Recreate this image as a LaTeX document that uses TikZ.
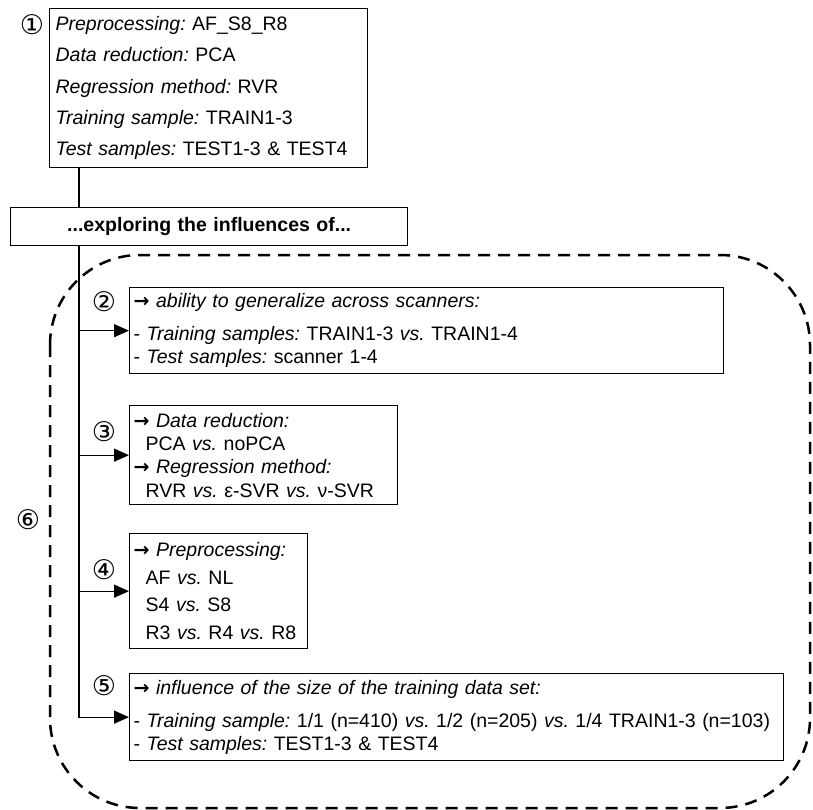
\documentclass[tikz,border=0pt]{standalone}
\usepackage{fontspec}
\setmainfont{Liberation Sans}
\newfontfamily\symfont{DejaVu Sans}
\usetikzlibrary{arrows.meta,positioning}
\frenchspacing

\newcommand{\Arr}{{\symfont\bfseries\fontsize{19}{19}\selectfont →}}
\newcommand{\Ind}{\hspace*{12pt}}
\newcommand{\It}[1]{{\itshape #1}}

\begin{document}
\begin{tikzpicture}[x=1pt,y=-1pt]
		\tikzstyle{Box}		= [draw, line width=1.3pt, inner xsep=4pt, inner ysep=0pt, anchor=north west, align=left, font=\fontsize{19.5}{23}\selectfont]
		\tikzstyle{Num}		= [inner sep=0pt, font=\symfont\fontsize{27}{27}\selectfont]
		\tikzstyle{Link}	= [line width=1.3pt]
		\tikzstyle{Branch}	= [Link, -{Triangle[length=15pt,width=13pt]}]
		\tikzstyle{Group}	= [line width=2.5pt, dash pattern=on 12pt off 8pt, rounded corners=90pt]

		\useasboundingbox (0,0) rectangle (813,810);

		% default setting
		\node (b1) at (49,8) [Box, inner xsep=6pt, text width=306pt, minimum height=159pt, font=\fontsize{19.5}{31.3}\selectfont]
			{\It{Preprocessing:} AF\_S8\_R8\\
			 \It{Data reduction:} PCA\\
			 \It{Regression method:} RVR\\
			 \It{Training sample:} TRAIN1-3\\
			 \It{Test samples:} TEST1-3 \& TEST4};
		\node (explore) at (10,207) [Box, align=center, text width=389pt, minimum height=38pt, font=\bfseries\fontsize{19.5}{23}\selectfont]
			{...exploring the influences of...};

		% variations
		\node (b2) at (129,287) [Box, text width=586pt, minimum height=86pt]
			{\Arr{} \It{ability to generalize across scanners:}\\[10pt]
			 - \It{Training samples:} TRAIN1-3 \It{vs.} TRAIN1-4\\
			 - \It{Test samples:} scanner 1-4};
		\node (b3) at (129,405) [Box, text width=260pt, minimum height=99pt, font=\fontsize{19.5}{23.3}\selectfont]
			{\Arr{} \It{Data reduction:}\\
			 \Ind PCA \It{vs.} noPCA\\
			 \Arr{} \It{Regression method:}\\
			 \Ind RVR \It{vs.} ε-SVR \It{vs.} ν-SVR};
		\node (b4) at (129,533) [Box, text width=170pt, minimum height=115pt, font=\fontsize{19.5}{27.7}\selectfont]
			{\Arr{} \It{Preprocessing:}\\
			 \Ind AF \It{vs.} NL\\
			 \Ind S4 \It{vs.} S8\\
			 \Ind R3 \It{vs.} R4 \It{vs.} R8};
		\node (b5) at (129,673) [Box, text width=646pt, minimum height=87pt, font=\fontsize{19.5}{23}\selectfont]
			{\Arr{} \It{influence of the size of the training data set:}\\[10pt]
			 \mbox{- \It{Training sample:} 1/1 (n=410) \It{vs.} 1/2 (n=205) \It{vs.} 1/4 TRAIN1-3 (n=103)}\\
			 - \It{Test samples:} TEST1-3 \& TEST4};

		\node (n1) at (32,25) [Num] {①};
		\node (n2) at (104,302) [Num] {②};
		\node (n3) at (104,432) [Num] {③};
		\node (n4) at (104,570) [Num] {④};
		\node (n5) at (104,686) [Num] {⑤};
		\node (n6) at (28,520) [Num] {⑥};

		\coordinate (t) at ([xshift=30pt]b1.south west);
		\draw [Link] (t) -- (t |- explore.north);
		\draw [Branch] (t |- explore.south) -- (t |- b5.west) -- (b5.west);
		\draw [Branch] (t |- b2.west) -- (b2.west);
		\draw [Branch] (t |- b3.west) -- (b3.west);
		\draw [Branch] (t |- b4.west) -- (b4.west);

		\draw [Group] (50,255) rectangle (810,808);
	\end{tikzpicture}
\end{document}
